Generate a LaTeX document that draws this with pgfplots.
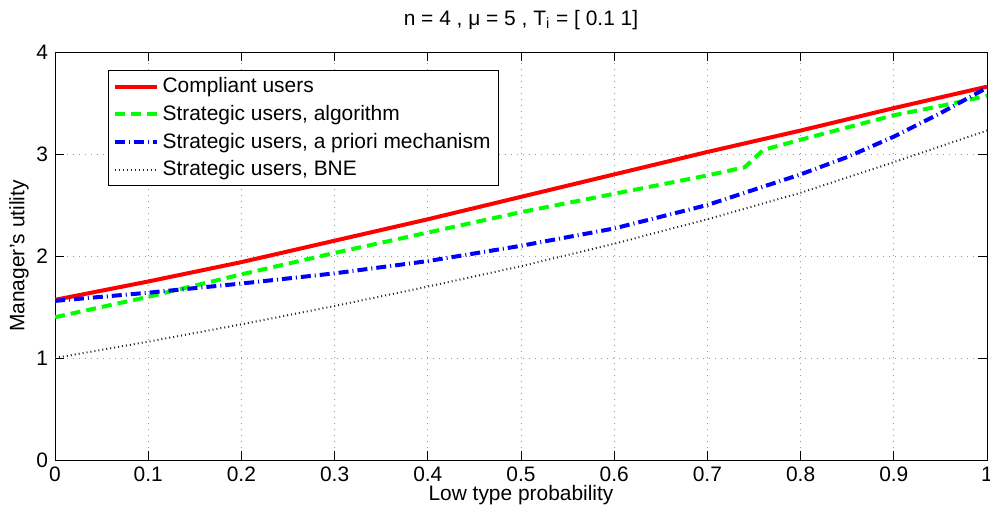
\documentclass[border=0pt]{standalone}
\usepackage{fontspec}
\setmainfont{Liberation Sans}
\usepackage{pgfplots}
\pgfplotsset{compat=1.18}

\begin{document}
\begin{tikzpicture}
\path[use as bounding box] (-27.5bp,-26bp) rectangle (467.5bp,230bp);
\begin{axis}[
  width=466bp, height=204bp, scale only axis,
  xmin=0, xmax=1, ymin=0, ymax=4,
  xtick={0,0.1,0.2,0.3,0.4,0.5,0.6,0.7,0.8,0.9,1},
  ytick={0,1,2,3,4},
  grid=major,
  major grid style={gray!80, line width=0.4bp, dash pattern=on 0.5bp off 2.5bp},
  tick align=inside, major tick length=4.5bp,
  axis line style={line width=0.5bp},
  every tick/.style={black, line width=0.5bp},
  tick label style={font=\fontsize{10.5}{12}\selectfont},
  /pgf/number format/assume math mode=true,
  font=\fontsize{10.5}{12}\selectfont,
  title={n = 4 , μ = 5 , T\textsubscript{i} = [ 0.1 1]},
  every axis title/.style={at={(axis description cs:0.5,1)}, anchor=center, yshift=16bp},
  xlabel={Low type probability},
  ylabel={Manager's utility},
  every axis x label/.style={at={(axis description cs:0.5,0)}, anchor=center, yshift=-17.5bp},
  every axis y label/.style={at={(axis description cs:0,0.5)}, xshift=-18bp, rotate=90, anchor=center},
  legend cell align=left,
  legend style={at={(axis description cs:0.057,0.956)}, anchor=north west,
    draw=black, line width=0.5bp, font=\fontsize{10.5}{12}\selectfont,
    inner xsep=2bp, inner ysep=1.5bp, row sep=0.8bp},
  legend image code/.code={\draw[#1] (0bp,0bp) -- (21bp,0bp);},
]

\addplot[red, line width=2bp] coordinates {
  (0,1.57) (0.1,1.75) (0.2,1.94) (0.3,2.15) (0.4,2.36) (0.5,2.58)
  (0.6,2.80) (0.7,3.02) (0.8,3.23) (0.9,3.45) (1.0,3.66)
};
\addlegendentry{Compliant users}

\addplot[green, line width=2bp, dash pattern=on 5bp off 3bp] coordinates {
  (0,1.40) (0.1,1.60) (0.2,1.82) (0.3,2.03) (0.4,2.23) (0.5,2.43)
  (0.6,2.61) (0.7,2.79) (0.74,2.87) (0.76,3.04) (0.8,3.14) (0.9,3.38)
  (0.95,3.47) (1.0,3.57)
};
\addlegendentry{Strategic users, algorithm}

\addplot[blue, line width=2bp, dash pattern=on 5bp off 2bp on 0.5bp off 2bp] coordinates {
  (0,1.56) (0.1,1.64) (0.2,1.73) (0.3,1.83) (0.4,1.95) (0.5,2.10)
  (0.6,2.27) (0.7,2.50) (0.8,2.80) (0.85,2.97) (0.9,3.17) (0.95,3.40)
  (1.0,3.65)
};
\addlegendentry{Strategic users, a priori mechanism}

\addplot[black!85, line width=1bp, dash pattern=on 0.5bp off 1.5bp] coordinates {
  (0,1.00) (0.1,1.16) (0.2,1.33) (0.3,1.51) (0.4,1.70) (0.5,1.90)
  (0.6,2.12) (0.7,2.36) (0.8,2.62) (0.9,2.92) (1.0,3.23)
};
\addlegendentry{Strategic users, BNE}

\end{axis}
\end{tikzpicture}
\end{document}
